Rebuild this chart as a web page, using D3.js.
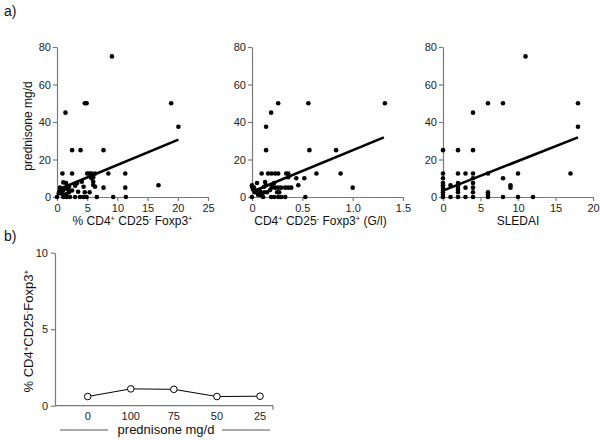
<!DOCTYPE html>
<html>
<head>
<meta charset="utf-8">
<script src="https://cdn.jsdelivr.net/npm/d3@7"></script>
<style>
  html, body { margin: 0; padding: 0; background: #fff; }
  svg { display: block; font-family: "Liberation Sans", Arial, sans-serif; }
</style>
</head>
<body>
<svg id="chart" width="600" height="440"></svg>
<script>
// ---------- DATA ----------
const yTicksTop = [0, 20, 40, 60, 80];

// Panel a1: % CD4+CD25-Foxp3+ vs prednisone
const p1X = [9.1, 1.4, 4.6, 4.9, 18.9, 20.1, 2.5, 3.9, 7.7,
  0.9, 2.5, 5.0, 5.3, 5.7, 6.3, 8.5, 11.3,
  5.7, 6.0, 1.05, 4.1, 6.0, 3.3, 1.5,
  16.8, 11.3, 7.7, 4.4, 6.0, 6.3, 0.5, 3.0, 2.0,
  0.4, 0.7, 1.0, 1.3, 1.8, 2.0, 2.5, 3.5, 4.6, 5.4, 0.3, 1.5, 0.8,
  0.0, 1.05, 1.6, 2.15, 3.0, 3.8, 4.4, 4.9, 6.6, 9.3, 11.4];
const p1Y = [75, 45, 50, 50, 50, 37.5, 25, 25, 25,
  12.5, 12.5, 12.5, 12.5, 12.5, 12.5, 12.5, 12.5,
  10, 10.5, 7.8, 8.2, 8.2, 7.3, 7.5,
  6.25, 5, 5, 5.5, 6.4, 5.5, 5, 6, 5.5,
  3, 4, 3.5, 4.5, 4, 2.5, 3.5, 2.8, 2.5, 2.5, 2, 1.5, 1.8,
  0, 0, 0, 0, 0, 0, 0, 0, 0, 0, 0];
const fit1X = [0.5, 20.1];
const fit1Y = [4.4, 30.6];
const p1Ticks = [0, 5, 10, 15, 20, 25];

// Panel a2: CD4+CD25-Foxp3+ (G/l) vs prednisone
const p2X = [1.32, 0.26, 0.56, 0.19, 0.14, 0.14, 0.57, 0.835,
  0.096, 0.16, 0.195, 0.23, 0.26, 0.34, 0.36, 0.64, 0.88,
  0.36, 0.44, 0.52, 0.13, 0.05,
  0.195, 0.23, 0.26, 0.29, 0.33, 0.36, 0.39, 0.46, 1.0,
  0.0, 0.0, 0.01, 0.02, 0.03, 0.06, 0.08, 0.1, 0.12, 0.14, 0.15, 0.12, 0.18, 0.22, 0.25, 0.27, 0.2, 0.06, 0.09,
  0.0, 0.11, 0.19, 0.22, 0.26, 0.29, 0.33, 0.53];
const p2Y = [50, 50, 50, 45, 37.5, 25, 25, 25,
  12.5, 12.5, 12.5, 12.5, 12.5, 12.5, 12.5, 12.5, 12.5,
  10.5, 10, 10, 8, 7.5,
  5, 5, 5, 5, 5, 5, 5, 6.25, 5,
  6.25, 5.5, 4, 5, 2.5, 3.5, 3, 2, 5.5, 6.25, 2.5, 2.5, 3.75, 7.5, 2.5, 2.5, 6.25, 1.25, 1,
  0, 0, 0, 0, 0, 0, 0, 0];
const fit2X = [0.03, 1.31];
const fit2Y = [3.5, 31.8];
const p2Ticks = [0, 0.5, 1.0, 1.5];

// Panel a3: SLEDAI vs prednisone
const p3X = [0, 0, 0, 0, 0, 0, 0, 0, 0, 0,
  1, 1,
  2, 2, 2, 2, 2, 2, 2, 2,
  3, 3, 3,
  4, 4, 4, 4, 4, 4, 4, 4,
  6, 6, 6, 6, 6,
  8, 8, 8,
  9, 9,
  10, 10,
  11, 12, 17, 18, 18];
const p3Y = [25, 12.5, 10, 7.5, 6.25, 5, 3.75, 2.5, 1.25, 0,
  6.25, 0,
  25, 12.5, 7.5, 6.25, 5, 3.75, 2.5, 0,
  12.5, 5, 0,
  45, 25, 12.5, 10, 7.5, 5, 2.5, 0,
  50, 12.5, 2.5, 1.25, 0,
  50, 10, 0,
  6.25, 5,
  12.5, 0,
  75, 0, 12.5, 50, 37.5];
const fit3X = [0, 18];
const fit3Y = [3.4, 31.8];
const p3Ticks = [0, 5, 10, 15, 20];

// Panel b
const bCategories = ["0", "100", "75", "50", "25"];
const bValues = [0.6, 1.1, 1.07, 0.6, 0.62];
const bYTicks = [0, 5, 10];

// ---------- DRAW ----------
const svg = d3.select("#chart");
const AXIS = "#7a7a7a";
const TXT = "#222";

function styleAxis(g) {
  g.selectAll(".domain").attr("stroke", AXIS).attr("stroke-width", 1.2);
  g.selectAll(".tick line").attr("stroke", AXIS).attr("stroke-width", 1.2);
  g.selectAll(".tick text").attr("fill", TXT).style("font-size", "11px")
    .style("font-family", "'Liberation Sans', Arial, sans-serif");
}

// label parts: [text, "n" | "sup"]
function richText(sel, parts, size) {
  parts.forEach(p => {
    const t = sel.append("tspan").text(p[0]);
    if (p[1] === "sup") {
      t.style("font-size", (size * 0.62) + "px").attr("baseline-shift", "super");
    }
  });
}

svg.append("text").attr("x", 4).attr("y", 16).style("font-size", "14px").attr("fill", "#111").text("a)");
svg.append("text").attr("x", 4).attr("y", 241).style("font-size", "14px").attr("fill", "#111").text("b)");

function scatterPanel(opts) {
  const x = d3.scaleLinear().domain(opts.xDomain).range(opts.xRange);
  const y = d3.scaleLinear().domain([0, 80]).range([197, 47]);
  const g = svg.append("g");

  g.append("g").attr("transform", `translate(0,${y(0)})`)
    .call(d3.axisBottom(x).tickValues(opts.ticks).tickSize(4).tickSizeOuter(0).tickPadding(3)
      .tickFormat(opts.fmt))
    .call(styleAxis);
  g.append("g").attr("transform", `translate(${x(0)},0)`)
    .call(d3.axisLeft(y).tickValues(yTicksTop).tickSize(4).tickSizeOuter(0).tickPadding(2))
    .call(styleAxis);

  const pts = opts.xs.map((v, i) => [v, opts.ys[i]]);
  g.append("g").selectAll("circle").data(pts).join("circle")
    .attr("cx", d => x(d[0])).attr("cy", d => y(d[1])).attr("r", 2.3).attr("fill", "#000");

  const fit = opts.fitX.map((v, i) => [v, opts.fitY[i]]);
  g.append("path").datum(fit)
    .attr("d", d3.line().x(d => x(d[0])).y(d => y(d[1])))
    .attr("stroke", "#000").attr("stroke-width", 2.6).attr("fill", "none");

  const lbl = g.append("text").attr("x", (opts.xRange[0] + opts.xRange[1]) / 2 + (opts.lblDx || 0))
    .attr("y", 225).attr("text-anchor", "middle").style("font-size", "12px").attr("fill", "#111");
  richText(lbl, opts.label, 12);

  if (opts.yLabel) {
    g.append("text").attr("transform", `translate(32,${(y(0) + y(80)) / 2 + 4}) rotate(-90)`)
      .attr("text-anchor", "middle").style("font-size", "12px").attr("fill", "#111").text(opts.yLabel);
  }
}

scatterPanel({
  xs: p1X, ys: p1Y, fitX: fit1X, fitY: fit1Y, xDomain: [0, 25], xRange: [57, 208],
  ticks: p1Ticks, fmt: d3.format("d"),
  label: [["% CD4", "n"], ["+", "sup"], [" CD25", "n"], ["-", "sup"], [" Foxp3", "n"], ["+", "sup"]],
  yLabel: "prednisone mg/d"
});
scatterPanel({
  xs: p2X, ys: p2Y, fitX: fit2X, fitY: fit2Y, xDomain: [0, 1.5], xRange: [252, 403],
  ticks: p2Ticks, fmt: d => d === 0 ? "0" : d3.format(".1f")(d), lblDx: -7,
  label: [["CD4", "n"], ["+", "sup"], [" CD25", "n"], ["-", "sup"], [" Foxp3", "n"], ["+", "sup"], [" (G/l)", "n"]]
});
scatterPanel({
  xs: p3X, ys: p3Y, fitX: fit3X, fitY: fit3Y, xDomain: [0, 20], xRange: [443, 593],
  ticks: p3Ticks, fmt: d3.format("d"),
  label: [["SLEDAI", "n"]]
});

// ---------- Panel b ----------
const bx = d3.scalePoint().domain(bCategories).range([87.7, 260]);
const by = d3.scaleLinear().domain([0, 10]).range([405.7, 252.7]);
const bg = svg.append("g");
const axL = 55, axR = 273;

bg.append("g").attr("transform", `translate(${axL},0)`)
  .call(d3.axisLeft(by).tickValues(bYTicks).tickSize(4).tickSizeOuter(0).tickPadding(3))
  .call(styleAxis);
bg.append("line").attr("x1", axL).attr("x2", axR).attr("y1", by(0)).attr("y2", by(0))
  .attr("stroke", AXIS).attr("stroke-width", 1.2);
bg.append("line").attr("x1", axR).attr("x2", axR).attr("y1", by(0)).attr("y2", by(0) + 4)
  .attr("stroke", AXIS).attr("stroke-width", 1.2);
bg.append("g").selectAll("text").data(bCategories).join("text")
  .attr("x", d => bx(d)).attr("y", by(0) + 14).attr("text-anchor", "middle")
  .style("font-size", "11px").attr("fill", TXT).text(d => d);

const bpts = bCategories.map((c, i) => [c, bValues[i]]);
bg.append("path").datum(bpts)
  .attr("d", d3.line().x(d => bx(d[0])).y(d => by(d[1])))
  .attr("stroke", "#000").attr("stroke-width", 1).attr("fill", "none");
bg.append("g").selectAll("circle").data(bpts).join("circle")
  .attr("cx", d => bx(d[0])).attr("cy", d => by(d[1])).attr("r", 3.3)
  .attr("fill", "#fff").attr("stroke", "#000").attr("stroke-width", 1);

const bLbl = bg.append("text").attr("x", 166).attr("y", 434).attr("text-anchor", "middle")
  .style("font-size", "13px").attr("fill", "#111").text("prednisone mg/d");
bg.append("line").attr("x1", 60).attr("x2", 108).attr("y1", 430).attr("y2", 430).attr("stroke", "#555");
bg.append("line").attr("x1", 222).attr("x2", 270).attr("y1", 430).attr("y2", 430).attr("stroke", "#555");

const bYL = bg.append("text").attr("transform", `translate(33,${(by(0) + by(10)) / 2 + 2}) rotate(-90)`)
  .attr("text-anchor", "middle").style("font-size", "13px").attr("fill", "#111");
richText(bYL, [["% CD4", "n"], ["+", "sup"], ["CD25", "n"], ["-", "sup"], ["Foxp3", "n"], ["+", "sup"]], 13);
</script>
</body>
</html>
